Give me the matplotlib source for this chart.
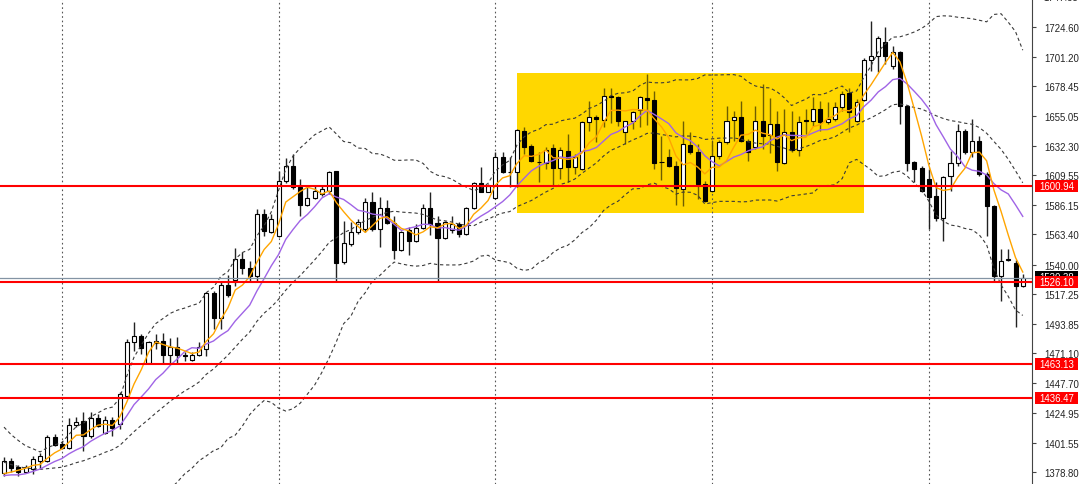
import numpy as np
import pandas as pd
import matplotlib
matplotlib.use("Agg")
import matplotlib.pyplot as plt
from matplotlib.patches import Rectangle

# ---------------- data ----------------
# closes of the bars just before the visible window (indicator warm-up only)
prior_close = [1415, 1418, 1410, 1406, 1400, 1401, 1395, 1390, 1386, 1383,
               1380, 1377, 1379, 1374, 1371, 1373, 1376, 1372, 1375, 1378]

open_ = [1378.0, 1387.3, 1383.2, 1379.3, 1381.4, 1387.8, 1387.8, 1406.4, 1400.8, 1397.7,
         1415.7, 1418.8, 1406.7, 1420.7, 1409.3, 1419.6, 1416.3, 1438.2, 1480.1, 1484.8,
         1463.4, 1479.1, 1480.9, 1469.8, 1475.8, 1469.9, 1465.9, 1469.8, 1474.5, 1517.9,
         1498.3, 1524.1, 1528.2, 1544.3, 1537.1, 1530.9, 1579.2, 1565.5, 1562.4, 1605.0,
         1616.7, 1599.9, 1586.4, 1591.4, 1594.7, 1597.0, 1612.3, 1541.7, 1555.9, 1565.0,
         1567.6, 1588.7, 1567.6, 1583.9, 1572.0, 1551.5, 1567.0, 1558.0, 1568.3, 1583.9,
         1572.0, 1560.4, 1567.0, 1571.4, 1563.7, 1583.6, 1603.3, 1596.5, 1591.4, 1623.2,
         1611.6, 1611.6, 1643.8, 1631.7, 1619.5, 1618.8, 1630.2, 1614.7, 1628.1, 1615.9,
         1614.1, 1650.3, 1654.2, 1652.5, 1671.0, 1669.7, 1642.6, 1651.3, 1659.9, 1669.2,
         1668.0, 1619.2, 1623.2, 1616.4, 1598.6, 1632.7, 1627.3, 1602.5, 1597.3, 1624.4,
         1634.8, 1652.1, 1654.5, 1636.1, 1631.0, 1651.1, 1640.1, 1649.0, 1618.8, 1643.1,
         1629.1, 1652.1, 1651.1, 1660.7, 1650.3, 1652.9, 1662.0, 1672.7, 1651.4, 1667.9,
         1698.9, 1701.5, 1712.4, 1693.8, 1705.1, 1662.8, 1619.3, 1614.7, 1606.4, 1592.9,
         1575.9, 1608.9, 1618.8, 1643.8, 1627.1, 1636.1, 1610.2, 1585.2, 1531.3, 1543.6,
         1541.2, 1523.1]
high = [1390.7, 1389.9, 1384.5, 1384.5, 1391.2, 1393.8, 1407.8, 1408.5, 1403.3, 1420.7,
        1421.5, 1425.4, 1425.4, 1424.0, 1422.7, 1421.5, 1440.9, 1482.2, 1495.6, 1486.1,
        1480.9, 1486.1, 1486.9, 1482.8, 1483.5, 1471.9, 1471.9, 1479.9, 1518.9, 1519.7,
        1526.7, 1531.9, 1552.8, 1549.5, 1543.0, 1583.1, 1583.1, 1579.2, 1612.8, 1622.4,
        1625.8, 1606.4, 1600.9, 1600.9, 1601.2, 1612.8, 1612.8, 1574.0, 1572.8, 1575.3,
        1591.4, 1596.0, 1592.2, 1590.1, 1577.9, 1566.2, 1568.9, 1571.4, 1587.0, 1596.0,
        1577.9, 1573.8, 1577.9, 1572.8, 1584.4, 1604.3, 1615.4, 1602.5, 1627.1, 1627.5,
        1623.4, 1645.1, 1646.5, 1633.5, 1627.1, 1631.2, 1633.5, 1631.0, 1641.3, 1625.8,
        1651.3, 1666.9, 1656.0, 1677.0, 1676.7, 1671.0, 1651.6, 1659.3, 1671.0, 1687.8,
        1674.6, 1640.0, 1629.6, 1620.6, 1651.6, 1642.6, 1633.5, 1605.0, 1636.1, 1636.6,
        1663.2, 1659.3, 1666.9, 1637.4, 1663.2, 1680.1, 1669.0, 1659.3, 1660.7, 1659.3,
        1655.5, 1660.7, 1669.7, 1667.1, 1666.1, 1665.9, 1674.9, 1676.7, 1668.4, 1700.0,
        1729.2, 1717.5, 1724.0, 1709.8, 1705.9, 1663.2, 1620.6, 1616.4, 1614.1, 1603.8,
        1608.9, 1628.3, 1649.0, 1645.1, 1652.9, 1640.0, 1612.0, 1586.2, 1552.1, 1552.1,
        1543.7, 1532.7]
low = [1376.2, 1378.8, 1376.2, 1378.8, 1377.5, 1381.4, 1387.0, 1399.4, 1396.9, 1396.9,
       1413.7, 1395.6, 1405.2, 1413.7, 1408.5, 1407.2, 1412.4, 1437.0, 1473.2, 1470.6,
       1462.8, 1474.5, 1462.8, 1462.8, 1462.8, 1464.9, 1465.3, 1469.3, 1468.8, 1490.0,
       1490.0, 1514.6, 1523.6, 1532.7, 1526.7, 1527.5, 1562.4, 1564.5, 1561.1, 1603.3,
       1598.6, 1577.9, 1585.6, 1590.8, 1593.4, 1594.7, 1526.1, 1540.4, 1554.6, 1563.7,
       1565.0, 1566.2, 1553.4, 1571.4, 1544.3, 1550.7, 1547.6, 1557.2, 1567.6, 1562.9,
       1526.1, 1559.8, 1564.5, 1561.1, 1562.9, 1583.1, 1596.0, 1596.0, 1590.8, 1611.0,
       1600.1, 1600.1, 1625.8, 1619.3, 1603.8, 1614.1, 1600.9, 1606.4, 1603.8, 1610.2,
       1613.3, 1643.8, 1634.8, 1646.7, 1649.8, 1647.7, 1633.5, 1645.1, 1646.5, 1648.2,
       1614.1, 1605.6, 1615.7, 1586.2, 1585.6, 1625.8, 1590.8, 1588.3, 1596.0, 1621.9,
       1633.5, 1636.1, 1634.8, 1620.6, 1629.6, 1629.6, 1626.5, 1612.8, 1618.0, 1627.1,
       1624.4, 1641.3, 1647.7, 1643.8, 1649.0, 1651.6, 1659.3, 1642.6, 1650.3, 1667.1,
       1690.4, 1689.1, 1695.6, 1691.7, 1649.0, 1612.8, 1603.8, 1596.3, 1567.6, 1574.0,
       1558.5, 1597.3, 1616.7, 1625.8, 1623.2, 1608.9, 1562.4, 1526.2, 1511.9, 1543.0,
       1491.3, 1522.3]
close = [1387.8, 1381.9, 1379.3, 1382.7, 1389.1, 1391.2, 1406.0, 1400.2, 1397.7, 1415.7,
         1418.1, 1407.2, 1420.7, 1415.0, 1419.6, 1412.9, 1439.6, 1479.7, 1484.8, 1475.0,
         1479.7, 1480.4, 1469.8, 1475.8, 1469.8, 1469.4, 1469.8, 1475.8, 1517.9, 1498.3,
         1524.1, 1516.4, 1544.3, 1537.1, 1531.3, 1579.2, 1566.2, 1575.3, 1605.0, 1616.7,
         1599.9, 1586.4, 1591.6, 1597.3, 1598.6, 1611.6, 1541.2, 1556.5, 1565.0, 1573.2,
         1588.7, 1567.6, 1583.9, 1572.0, 1551.5, 1565.0, 1558.0, 1568.3, 1583.9, 1571.4,
         1560.4, 1572.8, 1571.4, 1563.7, 1583.6, 1603.3, 1596.5, 1601.2, 1623.2, 1611.6,
         1612.0, 1644.4, 1631.0, 1620.3, 1619.2, 1628.9, 1614.7, 1628.9, 1615.9, 1623.2,
         1650.3, 1654.2, 1652.7, 1670.7, 1669.7, 1651.6, 1651.1, 1658.1, 1669.7, 1668.0,
         1618.4, 1619.7, 1616.2, 1599.0, 1633.5, 1627.1, 1602.5, 1589.5, 1624.4, 1634.7,
         1651.7, 1654.8, 1636.1, 1627.5, 1651.1, 1640.0, 1649.0, 1619.3, 1643.1, 1629.1,
         1650.8, 1651.1, 1660.7, 1650.8, 1652.9, 1662.0, 1672.3, 1658.3, 1666.3, 1698.9,
         1701.5, 1715.5, 1701.5, 1705.1, 1662.8, 1618.8, 1614.1, 1597.3, 1592.2, 1575.9,
         1607.7, 1618.8, 1643.8, 1627.1, 1636.1, 1610.2, 1585.2, 1531.3, 1543.0, 1544.2,
         1523.1, 1529.4]

level_prices = [1600.94, 1526.10, 1463.13, 1436.47]
last_price = 1529.38
box_bars = [71, 119]            # zone start / end bar
box_prices = [1580.0, 1688.4]   # zone bottom / top
grid_bars = [8, 38, 68, 98, 128]
tick_values = [1724.60, 1701.20, 1678.45, 1655.05, 1632.30, 1609.55, 1586.15,
               1563.40, 1540.00, 1517.25, 1493.85, 1471.10, 1447.70, 1424.95,
               1401.55, 1378.80]

# ---------------- indicators ----------------
full_close = pd.Series(prior_close + close, dtype=float)
n_prior = len(prior_close)
sma5 = full_close.rolling(5).mean().values[n_prior:]
sma10 = full_close.rolling(10).mean().values[n_prior:]
mid20 = full_close.rolling(20).mean().values[n_prior:]
std20 = full_close.rolling(20).std(ddof=0).values[n_prior:]
upper = mid20 + 2 * std20
lower = mid20 - 2 * std20

o = np.array(open_); h = np.array(high); l = np.array(low); c = np.array(close)
x = np.arange(len(c))

# ---------------- figure ----------------
W, H = 1080, 485
fig = plt.figure(figsize=(W / 100, H / 100), dpi=100)
ax_right_px = 1032
ax = fig.add_axes([0, 0, ax_right_px / W, 1])
ymin, ymax = 1369.7, 1746.0
ax.set_xlim(-0.554, 142.28)
ax.set_ylim(ymin, ymax)

# zone
ax.add_patch(Rectangle((box_bars[0], box_prices[0]), box_bars[1] - box_bars[0],
                       box_prices[1] - box_prices[0], facecolor='#FFD700',
                       edgecolor='none', zorder=0))

# vertical grid
for gb in grid_bars:
    ax.axvline(gb, color='#555555', lw=0.8, ls=(0, (1.5, 2.5)), zorder=1)

# candles: wicks
in_box = (x > box_bars[0]) & (x < box_bars[1])
wick_col = np.where(in_box, '#6E5E00', '#222222')
ax.vlines(x, l, h, colors=list(wick_col), lw=1.0, zorder=2)
bull = c >= o
bw = 0.56
bottoms = np.minimum(o, c)
heights = np.maximum(np.abs(c - o), 0.25)
ax.bar(x[bull], heights[bull], bottom=bottoms[bull], width=bw,
       color='white', edgecolor='black', linewidth=0.8, zorder=3)
ax.bar(x[~bull], heights[~bull], bottom=bottoms[~bull], width=bw,
       color='black', edgecolor='black', linewidth=0.8, zorder=3)

# indicators
dash = (0, (3, 2.5))
for band in (upper, mid20, lower):
    ax.plot(x, band, color='#3a3a3a', lw=0.8, ls=dash, zorder=4)
ax.plot(x, sma10, color='#A064E6', lw=1.0, zorder=5)
ax.plot(x, sma5, color='#FFA500', lw=1.0, zorder=5)

# levels
ax.axhline(last_price, color='#8494A4', lw=0.9, zorder=5)
for lp in level_prices:
    ax.axhline(lp, color='#FF0000', lw=1.5, zorder=6)

# axes styling
for s in ('top', 'left', 'bottom'):
    ax.spines[s].set_visible(False)
ax.spines['right'].set_color('#444444')
ax.spines['right'].set_linewidth(0.8)
ax.set_xticks([])
ax.yaxis.tick_right()
ax.set_yticks(tick_values)
ax.set_yticklabels([f"{v:.2f}" for v in tick_values])
ax.tick_params(axis='y', direction='out', length=3, width=0.8, color='#444444',
               pad=6, labelsize=6.9, labelcolor='#222222')
for lab in ax.get_yticklabels():
    lab.set_family('Liberation Sans')

ytr = ax.get_yaxis_transform()
ax.text(1.0105, 1747.35, '1747.35', transform=ytr, va='center', ha='left',
        fontsize=6.9, family='Liberation Sans', color='#222222', clip_on=False)

# price tags on the axis (43 x 12 px boxes)
tag_x0 = 1035 / ax_right_px
tag_w = 43 / ax_right_px
tag_h = 12 * (ymax - ymin) / H

def price_tag(val, fc, zo):
    ax.add_patch(Rectangle((tag_x0, val - tag_h / 2), tag_w, tag_h, transform=ytr,
                           facecolor=fc, edgecolor='none', zorder=zo, clip_on=False))
    ax.text(tag_x0 + tag_w / 2, val, f"{val:.2f}", transform=ytr, va='center',
            ha='center', fontsize=6.9, family='Liberation Sans', color='white',
            zorder=zo + 0.5, clip_on=False)

price_tag(last_price + 1.0, 'black', 10)
for lp in level_prices:
    price_tag(lp, '#FF0000', 11)

fig.savefig('out.png', dpi=100, facecolor='white')
